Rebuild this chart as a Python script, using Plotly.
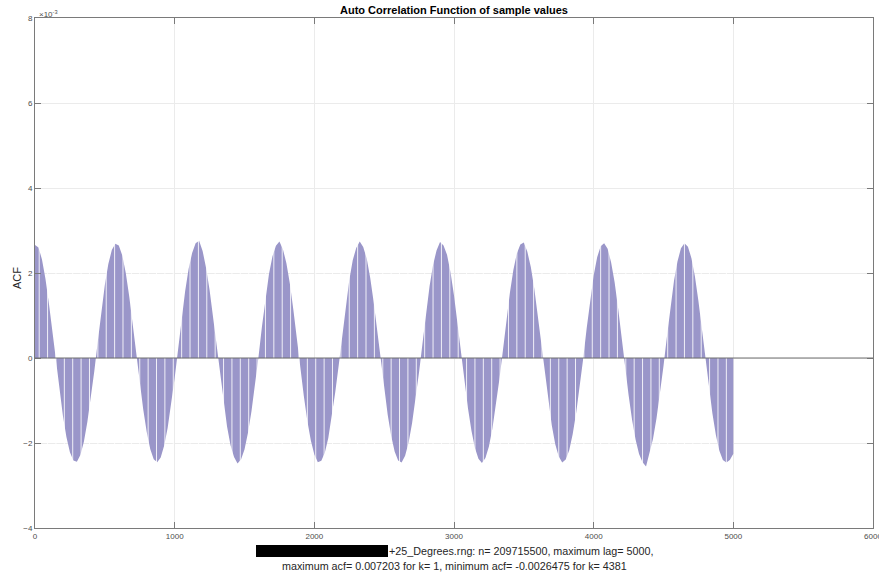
import plotly.graph_objects as go

# Lags (every 25 samples) and ACF values (units of 1e-3)
lags = list(range(0, 5001, 25))
acf_e3 = [
    2.66, 2.60, 2.32, 1.86, 1.27, 0.59, -0.12, -0.77, -1.36, -1.86, -2.22, -2.41,
    -2.44, -2.28, -1.97, -1.50, -0.93, -0.30, 0.40, 1.10, 1.72, 2.21, 2.54, 2.69,
    2.65, 2.41, 2.00, 1.44, 0.78, 0.06, -0.60, -1.21, -1.74, -2.14, -2.38, -2.45,
    -2.34, -2.06, -1.64, -1.09, -0.47, 0.21, 0.92, 1.57, 2.10, 2.47, 2.70,
    2.76, 2.52, 2.12, 1.60, 0.96, 0.25, -0.43, -1.06, -1.61, -2.05, -2.33, -2.48,
    -2.39, -2.15, -1.76, -1.25, -0.64, 0.02, 0.74, 1.40, 1.97, 2.39, 2.64,
    2.74, 2.56, 2.23, 1.75, 1.13, 0.44, -0.26, -0.90, -1.48, -1.94, -2.27, -2.45,
    -2.42, -2.23, -1.88, -1.39, -0.80, -0.16, 0.55, 1.24, 1.83, 2.30, 2.59,
    2.74, 2.61, 2.34, 1.89, 1.31, 0.63, -0.09, -0.74, -1.33, -1.83, -2.20, -2.41,
    -2.46, -2.30, -1.99, -1.53, -0.97, -0.33, 0.36, 1.06, 1.69, 2.19, 2.53,
    2.73, 2.65, 2.43, 2.02, 1.47, 0.81, 0.10, -0.57, -1.18, -1.71, -2.12, -2.37,
    -2.47, -2.35, -2.08, -1.66, -1.12, -0.50, 0.17, 0.88, 1.53, 2.07, 2.46, 2.67,
    2.72, 2.50, 2.14, 1.63, 0.99, 0.29, -0.40, -1.03, -1.58, -2.03, -2.32, -2.46,
    -2.39, -2.17, -1.79, -1.28, -0.67, -0.02, 0.70, 1.37, 1.94, 2.37, 2.63,
    2.70, 2.57, 2.25, 1.78, 1.17, 0.48, -0.23, -0.87, -1.45, -1.92, -2.26, -2.45,
    -2.55, -2.25, -1.90, -1.42, -0.84, -0.19, 0.51, 1.20, 1.81, 2.27, 2.58, 2.70,
    2.62, 2.35, 1.92, 1.34, 0.67, -0.05, -0.70, -1.30, -1.81, -2.18, -2.40, -2.46,
    -2.40, -2.25,
]

x_ticks = [0, 1000, 2000, 3000, 4000, 5000, 6000]
y_ticks = [-4, -2, 0, 2, 4, 6, 8]

title_text = "Auto Correlation Function of sample values"
xlabel_line1 = "+25_Degrees.rng: n= 209715500, maximum lag= 5000,"
xlabel_line2 = "maximum acf= 0.007203 for k= 1, minimum acf= -0.0026475 for k= 4381"

BAR = "#9a96c9"
AX = "#7a7a7a"
GRID = "#ebebeb"
TXT = "#262626"
FONT = "Liberation Sans, Arial, sans-serif"

fig = go.Figure()
fig.add_trace(go.Scatter(
    x=lags, y=acf_e3, mode="lines", fill="tozeroy",
    fillcolor=BAR, line=dict(width=0, color=BAR), hoverinfo="skip",
    showlegend=False,
))

# rendering stripes seen in the original bar plot
sx, sy = [], []
for s in range(30, 5000, 60):
    sx += [s, s, None]
    sy += [-2.75, 2.85, None]
fig.add_trace(go.Scatter(
    x=sx, y=sy, mode="lines", line=dict(color="rgba(255,255,255,0.85)", width=1),
    hoverinfo="skip", showlegend=False,
))

axis_common = dict(
    showgrid=True, gridcolor=GRID, gridwidth=1, zeroline=False,
    showline=True, linecolor=AX, linewidth=1, mirror="ticks",
    ticks="inside", ticklen=6, tickcolor=AX, tickwidth=1,
    ticklabeloverflow="allow", automargin=False,
    tickfont=dict(family=FONT, size=8, color="#4d4d4d"),
)

fig.update_layout(
    width=879, height=575,
    margin=dict(l=35, r=6, t=18, b=47),
    paper_bgcolor="white", plot_bgcolor="white",
    font=dict(family=FONT, color=TXT),
    title=dict(text="<b>" + title_text + "</b>", x=0.5, xref="paper",
               y=1 - 10 / 575, yref="container", yanchor="middle",
               font=dict(family=FONT, size=11, color="#000000")),
    xaxis=dict(range=[0, 6000], tickvals=x_ticks, **axis_common),
    yaxis=dict(range=[-4, 8], tickvals=y_ticks, **axis_common),
    shapes=[
        dict(type="line", xref="x", yref="y", x0=0, x1=6000, y0=0, y1=0,
             line=dict(color="#6e6e6e", width=1), layer="above"),
        dict(type="rect", xref="paper", yref="paper",
             x0=(256 - 35) / 838, x1=(388 - 35) / 838,
             y0=-17 / 510, y1=-29 / 510,
             fillcolor="black", line=dict(width=0), layer="above"),
    ],
    annotations=[
        dict(text="×10<sup>-3</sup>", xref="paper", yref="paper",
             x=2 / 838, y=1 + 4 / 510, xanchor="left", yanchor="middle",
             showarrow=False, font=dict(family=FONT, size=8, color="#4d4d4d")),
        dict(text="ACF", xref="paper", yref="paper",
             x=-18 / 838, y=0.49, textangle=-90, xanchor="center", yanchor="middle",
             showarrow=False, font=dict(family=FONT, size=11, color=TXT)),
        dict(text=xlabel_line1, xref="paper", yref="paper",
             x=(387 - 35) / 838, y=-23 / 510, xanchor="left", yanchor="middle",
             showarrow=False, font=dict(family=FONT, size=10.75, color=TXT)),
        dict(text=xlabel_line2, xref="paper", yref="paper",
             x=0.5, y=-38 / 510, xanchor="center", yanchor="middle",
             showarrow=False, font=dict(family=FONT, size=10.75, color=TXT)),
    ],
)

fig.write_html("out.html")
